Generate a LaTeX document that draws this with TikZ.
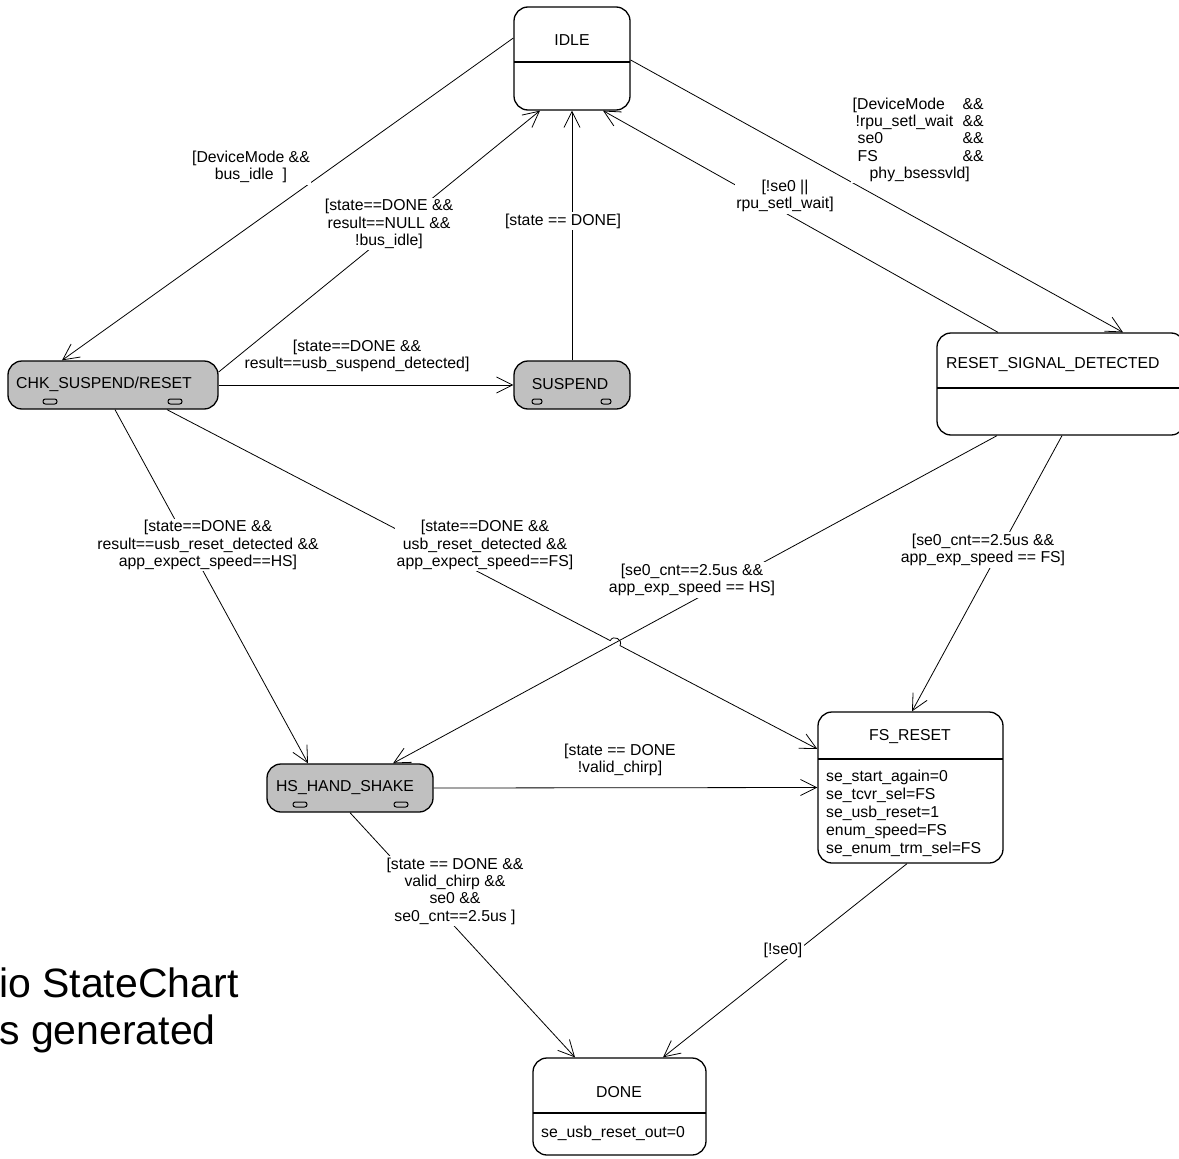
\documentclass[tikz,border=0pt]{standalone}
\usepackage{fontspec}
\setmainfont{Liberation Sans}
\usetikzlibrary{arrows.meta}
\definecolor{stategrey}{RGB}{192,192,192}
\newcommand\lblsize{\fontsize{15.8}{17.3}\selectfont}
\newcommand\bodysize{\fontsize{15.8}{18}\selectfont}
\newcommand\bigsize{\fontsize{41}{47}\selectfont}

\begin{document}
\begin{tikzpicture}[x=1pt,y=-1pt,
  state/.style={draw, line width=1.3pt, rounded corners=14pt, inner sep=0pt},
  plain/.style={state, fill=white},
  shaded/.style={state, fill=stategrey},
  title/.style={font=\lblsize, inner sep=0pt},
  body/.style={font=\bodysize, align=left, inner sep=0pt, anchor=north west},
  guard/.style={font=\lblsize, align=center, inner sep=1.5pt, fill=white},
  bare/.style={font=\lblsize, align=center, inner sep=1.5pt},
  trans/.style={line width=0.8pt, -{Straight Barb[length=16pt,width=16pt]}},
  divider/.style={line width=1.3pt},
  tab/.style={line width=1pt, rounded corners=2.4pt},
]
\useasboundingbox (0,0) rectangle (1179,1159);

% ---------- states ----------
\node[plain, minimum width=116pt, minimum height=103pt] (idle) at (572,58.5) {};
\draw[divider] (514,62) -- (630,62);
\node[title] (idletitle) at (572,40) {IDLE};

\node[shaded, minimum width=210pt, minimum height=48pt] (chk) at (113,385) {};
\node[title, anchor=west] (chktitle) at (16,384) {CHK\_SUSPEND/RESET};
\draw[tab] (43,399) rectangle (57,404);
\draw[tab] (168,399) rectangle (182,404);

\node[shaded, minimum width=116pt, minimum height=48pt] (suspend) at (572,385) {};
\node[title] (suspendtitle) at (570,384) {SUSPEND};
\draw[tab] (532,399) rectangle (542,404);
\draw[tab] (601,399) rectangle (611,404);

\node[plain, minimum width=248pt, minimum height=102pt] (rsd) at (1061,384) {};
\draw[divider] (937,388) -- (1185,388);
\node[title, anchor=west] (rsdtitle) at (946,365) {RESET\_SIGNAL\_DETECTED};

\node[plain, minimum width=185pt, minimum height=151pt] (fs) at (910.5,787.5) {};
\draw[divider] (818,759) -- (1003,759);
\node[title] (fstitle) at (910,737) {FS\_RESET};
\node[body] (fsbody) at (826,770) {se\_start\_again=0\\se\_tcvr\_sel=FS\\se\_usb\_reset=1\\enum\_speed=FS\\se\_enum\_trm\_sel=FS};

\node[shaded, minimum width=166pt, minimum height=48pt] (hs) at (350,788) {};
\node[title] (hstitle) at (345,788) {HS\_HAND\_SHAKE};
\draw[tab] (293,802) rectangle (307,807);
\draw[tab] (394,802) rectangle (408,807);

\node[plain, minimum width=173pt, minimum height=97pt] (done) at (619.5,1106.5) {};
\draw[divider] (533,1113) -- (706,1113);
\node[title] (donetitle) at (619,1092) {DONE};
\node[title, anchor=west] (donebody) at (541,1133) {se\_usb\_reset\_out=0};

% ---------- transitions ----------
\draw[trans] ([yshift=20.5pt]idle.west) -- ([xshift=-51pt]chk.north);
\draw[trans] ([yshift=13pt]chk.east) -- ([xshift=-32pt]idle.south);
\draw[trans] (suspend.north) -- (idle.south);
\draw[trans] (chk.east) -- (suspend.west);
\draw[trans] ([yshift=-1.5pt]idle.east) -- ([xshift=62pt]rsd.north);
\draw[trans] ([xshift=-63pt]rsd.north) -- ([xshift=31pt]idle.south);
\draw[trans] ([xshift=2pt]chk.south) -- ([xshift=-42pt]hs.north);
% line hop where this transition crosses the one from RESET_SIGNAL_DETECTED
\coordinate (hopin) at (610.2,640.6);
\coordinate (hopout) at (620.0,645.6);
\draw[trans] ([xshift=54pt]chk.south) -- (hopin)
  .. controls (613.4,634.4) and (623.2,639.4) .. (hopout)
  -- ([yshift=38.5pt]fs.west);
\draw[trans] ([xshift=-64pt]rsd.south) -- ([xshift=43pt]hs.north);
\draw[trans] ([xshift=1pt]rsd.south) -- ([xshift=1.5pt]fs.north);
\draw[trans] (hs.east) -- (fs.west);
\draw[trans] (hs.south) -- ([xshift=-44.5pt]done.north);
\draw[trans] ([xshift=-3.5pt]fs.south) -- ([xshift=43.5pt]done.north);

% ---------- guards ----------
\node[guard] (g1) at (251,167) {[DeviceMode \&\&\\bus\_idle\hspace{9pt}]};
\node[guard] (g2) at (389,224) {[state==DONE \&\&\\result==NULL \&\&\\!bus\_idle]};
\node[guard] (g3) at (563,221) {[state == DONE]};
\node[bare] (g4) at (357,356) {[state==DONE \&\&\\result==usb\_suspend\_detected]};
\node[guard, align=left, anchor=north west] (g5) at (851,96) {%
  \makebox[110pt][l]{[DeviceMode}\&\&\\
  \makebox[110pt][l]{\hspace{3pt}!rpu\_setl\_wait}\&\&\\
  \makebox[110pt][l]{\hspace{5pt}se0}\&\&\\
  \makebox[110pt][l]{\hspace{5pt}FS}\&\&\\
  \hspace{17pt}phy\_bsessvld]};
\node[guard] (g6) at (785,196) {[!se0 ||\\rpu\_setl\_wait]};
\node[guard] (g7) at (208,545) {[state==DONE \&\&\\result==usb\_reset\_detected \&\&\\app\_expect\_speed==HS]};
\node[guard] (g8) at (485,545) {[state==DONE \&\&\\usb\_reset\_detected \&\&\\app\_expect\_speed==FS]};
\node[guard] (g9) at (692,580) {[se0\_cnt==2.5us \&\&\\app\_exp\_speed == HS]};
\node[guard] (g10) at (983,550) {[se0\_cnt==2.5us \&\&\\app\_exp\_speed == FS]};
\node[bare] (g11) at (620,760) {[state == DONE\\!valid\_chirp]};
\node[guard] (g12) at (455,891) {[state == DONE \&\&\\valid\_chirp \&\&\\se0 \&\&\\se0\_cnt==2.5us ]};
\node[guard] (g13) at (783,950) {[!se0]};

% ---------- caption text ----------
\node[font=\bigsize, anchor=base west, inner sep=0pt] (cap1) at (-1,997) {io StateChart};
\node[font=\bigsize, anchor=base west, inner sep=0pt] (cap2) at (-1,1044) {s generated};
\end{tikzpicture}
\end{document}
